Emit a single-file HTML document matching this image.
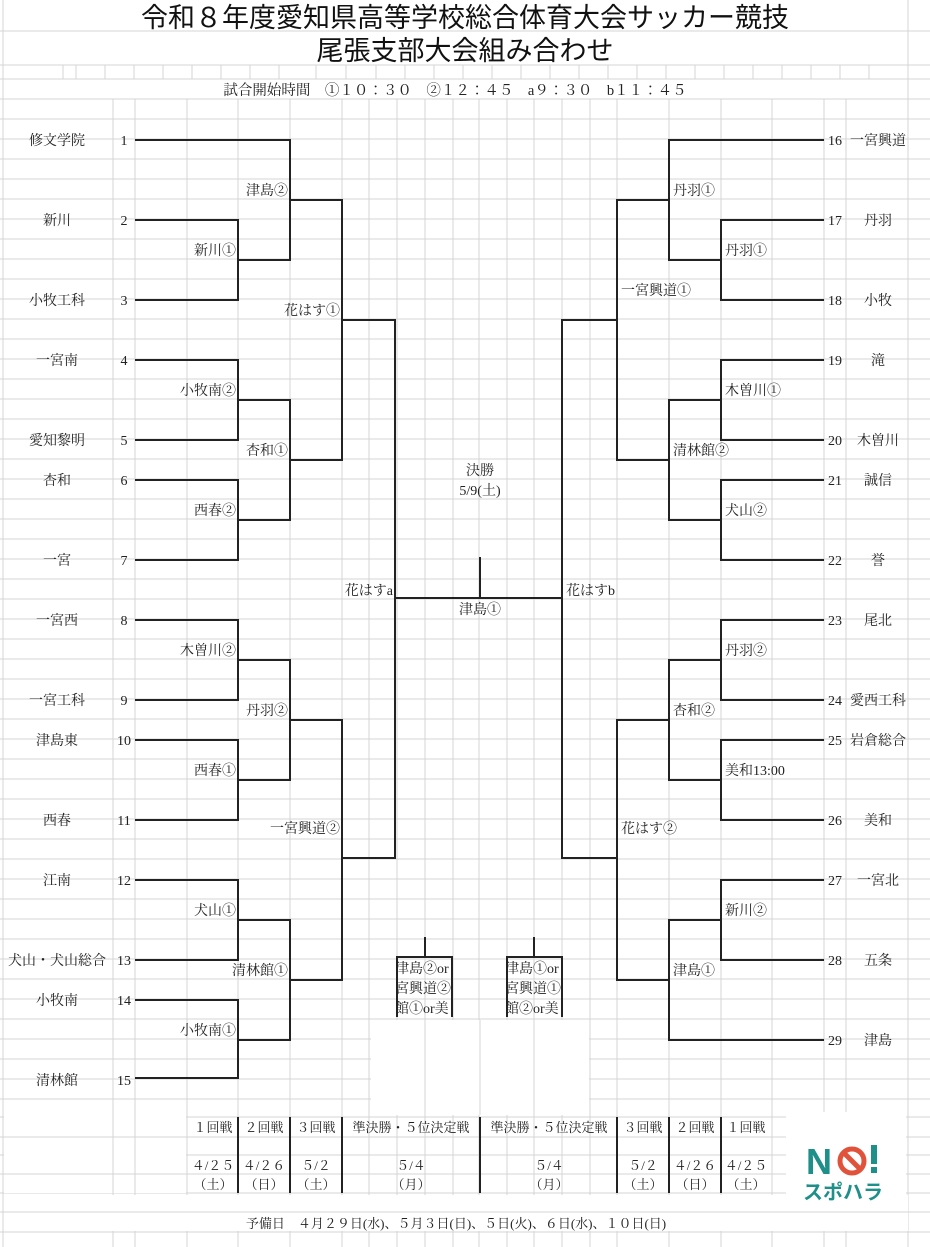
<!DOCTYPE html>
<html><head><meta charset="utf-8"><style>
html,body{margin:0;padding:0;background:#fff}
svg{display:block}
text{font-family:"Liberation Serif","Noto Serif CJK JP",serif;fill:#222}
.t{font-family:"Liberation Sans","Noto Sans CJK JP",sans-serif;font-size:27px;fill:#111}
.lg{font-family:"Liberation Sans","Noto Sans CJK JP",sans-serif;font-weight:bold;fill:#1f8f8a}
</style></head><body>
<svg width="930" height="1247" viewBox="0 0 930 1247" xmlns="http://www.w3.org/2000/svg">
<g stroke="#d4d4d4" stroke-width="1">
<line x1="0" y1="31" x2="930" y2="31"/><line x1="0" y1="65" x2="930" y2="65"/><line x1="0" y1="79" x2="930" y2="79"/>
<line x1="3" y1="0" x2="3" y2="1247"/><line x1="908" y1="0" x2="908" y2="1247"/>
</g>
<g stroke="#d4d4d4" stroke-width="1">
<line x1="0" y1="99" x2="930" y2="99"/><line x1="0" y1="119" x2="930" y2="119"/><line x1="0" y1="139" x2="930" y2="139"/><line x1="0" y1="159" x2="930" y2="159"/><line x1="0" y1="179" x2="930" y2="179"/><line x1="0" y1="199" x2="930" y2="199"/><line x1="0" y1="219" x2="930" y2="219"/><line x1="0" y1="239" x2="930" y2="239"/><line x1="0" y1="259" x2="930" y2="259"/><line x1="0" y1="279" x2="930" y2="279"/><line x1="0" y1="299" x2="930" y2="299"/><line x1="0" y1="319" x2="930" y2="319"/><line x1="0" y1="339" x2="930" y2="339"/><line x1="0" y1="359" x2="930" y2="359"/><line x1="0" y1="379" x2="930" y2="379"/><line x1="0" y1="399" x2="930" y2="399"/><line x1="0" y1="419" x2="930" y2="419"/><line x1="0" y1="439" x2="930" y2="439"/><line x1="0" y1="459" x2="930" y2="459"/><line x1="0" y1="479" x2="930" y2="479"/><line x1="0" y1="499" x2="930" y2="499"/><line x1="0" y1="519" x2="930" y2="519"/><line x1="0" y1="539" x2="930" y2="539"/><line x1="0" y1="559" x2="930" y2="559"/><line x1="0" y1="579" x2="930" y2="579"/><line x1="0" y1="599" x2="930" y2="599"/><line x1="0" y1="619" x2="930" y2="619"/><line x1="0" y1="639" x2="930" y2="639"/><line x1="0" y1="659" x2="930" y2="659"/><line x1="0" y1="679" x2="930" y2="679"/><line x1="0" y1="699" x2="930" y2="699"/><line x1="0" y1="719" x2="930" y2="719"/><line x1="0" y1="739" x2="930" y2="739"/><line x1="0" y1="759" x2="930" y2="759"/><line x1="0" y1="779" x2="930" y2="779"/><line x1="0" y1="799" x2="930" y2="799"/><line x1="0" y1="819" x2="930" y2="819"/><line x1="0" y1="839" x2="930" y2="839"/><line x1="0" y1="859" x2="930" y2="859"/><line x1="0" y1="879" x2="930" y2="879"/><line x1="0" y1="899" x2="930" y2="899"/><line x1="0" y1="919" x2="930" y2="919"/><line x1="0" y1="939" x2="930" y2="939"/><line x1="0" y1="959" x2="930" y2="959"/><line x1="0" y1="979" x2="930" y2="979"/><line x1="0" y1="999" x2="930" y2="999"/><line x1="0" y1="1019" x2="930" y2="1019"/><line x1="0" y1="1039" x2="930" y2="1039"/><line x1="0" y1="1059" x2="930" y2="1059"/><line x1="0" y1="1079" x2="930" y2="1079"/><line x1="0" y1="1099" x2="930" y2="1099"/><line x1="0" y1="1117" x2="930" y2="1117"/><line x1="0" y1="1137" x2="930" y2="1137"/><line x1="0" y1="1155" x2="930" y2="1155"/><line x1="0" y1="1174" x2="930" y2="1174"/><line x1="0" y1="1193" x2="930" y2="1193"/><line x1="0" y1="1212" x2="930" y2="1212"/><line x1="0" y1="1232" x2="930" y2="1232"/>
</g>
<g stroke="#d4d4d4" stroke-width="1">
<line x1="113" y1="99" x2="113" y2="1247"/><line x1="135" y1="99" x2="135" y2="1247"/><line x1="187" y1="99" x2="187" y2="1247"/><line x1="238" y1="99" x2="238" y2="1247"/><line x1="290" y1="99" x2="290" y2="1247"/><line x1="342" y1="99" x2="342" y2="1247"/><line x1="369" y1="99" x2="369" y2="1247"/><line x1="397" y1="99" x2="397" y2="1247"/><line x1="425" y1="99" x2="425" y2="1247"/><line x1="453" y1="99" x2="453" y2="1247"/><line x1="479" y1="99" x2="479" y2="1247"/><line x1="507" y1="99" x2="507" y2="1247"/><line x1="534" y1="99" x2="534" y2="1247"/><line x1="562" y1="99" x2="562" y2="1247"/><line x1="590" y1="99" x2="590" y2="1247"/><line x1="617" y1="99" x2="617" y2="1247"/><line x1="669" y1="99" x2="669" y2="1247"/><line x1="721" y1="99" x2="721" y2="1247"/><line x1="772" y1="99" x2="772" y2="1247"/><line x1="824" y1="99" x2="824" y2="1247"/><line x1="846" y1="99" x2="846" y2="1247"/>
<line x1="63" y1="65" x2="63" y2="79"/><line x1="76" y1="65" x2="76" y2="79"/><line x1="105" y1="65" x2="105" y2="79"/><line x1="134" y1="65" x2="134" y2="79"/><line x1="163" y1="65" x2="163" y2="79"/><line x1="192" y1="65" x2="192" y2="79"/><line x1="221" y1="65" x2="221" y2="79"/><line x1="250" y1="65" x2="250" y2="79"/><line x1="279" y1="65" x2="279" y2="79"/><line x1="316" y1="65" x2="316" y2="79"/><line x1="346" y1="65" x2="346" y2="79"/><line x1="376" y1="65" x2="376" y2="79"/><line x1="405" y1="65" x2="405" y2="79"/><line x1="434" y1="65" x2="434" y2="79"/><line x1="463" y1="65" x2="463" y2="79"/><line x1="492" y1="65" x2="492" y2="79"/><line x1="521" y1="65" x2="521" y2="79"/><line x1="550" y1="65" x2="550" y2="79"/><line x1="579" y1="65" x2="579" y2="79"/><line x1="608" y1="65" x2="608" y2="79"/><line x1="637" y1="65" x2="637" y2="79"/><line x1="666" y1="65" x2="666" y2="79"/><line x1="695" y1="65" x2="695" y2="79"/><line x1="724" y1="65" x2="724" y2="79"/><line x1="753" y1="65" x2="753" y2="79"/><line x1="782" y1="65" x2="782" y2="79"/><line x1="811" y1="65" x2="811" y2="79"/><line x1="840" y1="65" x2="840" y2="79"/><line x1="869" y1="65" x2="869" y2="79"/>
</g>
<rect x="371" y="1020" width="218" height="95" fill="#fff"/>
<g stroke="#d4d4d4"><line x1="425" y1="1020" x2="425" y2="1115"/><line x1="480" y1="1020" x2="480" y2="1115"/><line x1="534" y1="1020" x2="534" y2="1115"/></g>
<rect x="4" y="1100" width="182" height="93" fill="#fff"/>
<g stroke="#d4d4d4"><line x1="113" y1="1100" x2="113" y2="1193"/><line x1="135" y1="1100" x2="135" y2="1193"/><line x1="4" y1="1137" x2="186" y2="1137"/><line x1="4" y1="1174" x2="186" y2="1174"/></g>
<rect x="4" y="1195" width="904" height="36" fill="#fff"/>
<line x1="4" y1="1212" x2="908" y2="1212" stroke="#d4d4d4"/>
<rect x="786" y="1112" width="120" height="98" fill="#fff"/>

<g stroke="#222" stroke-width="2" fill="none">
<polyline points="135,140 290,140 290,260 238,260"/>
<polyline points="135,220 238,220 238,300 135,300"/>
<polyline points="290,200 342,200 342,460 290,460"/>
<polyline points="135,360 238,360 238,440 135,440"/>
<polyline points="135,480 238,480 238,560 135,560"/>
<polyline points="238,400 290,400 290,520 238,520"/>
<polyline points="342,320 395,320 395,858 342,858"/>
<polyline points="135,620 238,620 238,700 135,700"/>
<polyline points="135,740 238,740 238,820 135,820"/>
<polyline points="238,660 290,660 290,780 238,780"/>
<polyline points="290,720 342,720 342,980 290,980"/>
<polyline points="135,880 238,880 238,960 135,960"/>
<polyline points="135,1000 238,1000 238,1078 135,1078"/>
<polyline points="238,920 290,920 290,1040 238,1040"/>
<line x1="395" y1="598" x2="562" y2="598"/>
<line x1="480" y1="557" x2="480" y2="598"/>
<polyline points="824,140 669,140 669,260 721,260"/>
<polyline points="824,220 721,220 721,300 824,300"/>
<polyline points="669,200 617,200 617,460 669,460"/>
<polyline points="824,360 721,360 721,440 824,440"/>
<polyline points="824,480 721,480 721,560 824,560"/>
<polyline points="721,400 669,400 669,520 721,520"/>
<polyline points="617,320 562,320 562,858 617,858"/>
<polyline points="824,620 721,620 721,700 824,700"/>
<polyline points="824,740 721,740 721,820 824,820"/>
<polyline points="721,660 669,660 669,780 721,780"/>
<polyline points="669,720 617,720 617,980 669,980"/>
<polyline points="824,880 721,880 721,960 824,960"/>
<polyline points="824,1040 669,1040 669,920 721,920"/>
<polyline points="397,1017 397,957 452,957 452,1017"/>
<line x1="425" y1="937" x2="425" y2="957"/>
<polyline points="507,1017 507,957 562,957 562,1017"/>
<line x1="534" y1="937" x2="534" y2="957"/>
<line x1="238" y1="1117" x2="238" y2="1193"/><line x1="290" y1="1117" x2="290" y2="1193"/><line x1="342" y1="1117" x2="342" y2="1193"/><line x1="480" y1="1117" x2="480" y2="1193"/><line x1="617" y1="1117" x2="617" y2="1193"/><line x1="669" y1="1117" x2="669" y2="1193"/><line x1="721" y1="1117" x2="721" y2="1193"/>
</g>

<text class="t" x="465" y="27" text-anchor="middle">令和８年度愛知県高等学校総合体育大会サッカー競技</text>
<text class="t" x="465" y="60" text-anchor="middle">尾張支部大会組み合わせ</text>
<text x="455" y="95" font-size="14.5" text-anchor="middle">試合開始時間　①１０：３０　②１２：４５　a９：３０　b１１：４５</text>

<g font-size="14" text-anchor="middle">
<text x="57" y="145">修文学院</text><text x="124" y="145">1</text>
<text x="57" y="225">新川</text><text x="124" y="225">2</text>
<text x="57" y="305">小牧工科</text><text x="124" y="305">3</text>
<text x="57" y="365">一宮南</text><text x="124" y="365">4</text>
<text x="57" y="445">愛知黎明</text><text x="124" y="445">5</text>
<text x="57" y="485">杏和</text><text x="124" y="485">6</text>
<text x="57" y="565">一宮</text><text x="124" y="565">7</text>
<text x="57" y="625">一宮西</text><text x="124" y="625">8</text>
<text x="57" y="705">一宮工科</text><text x="124" y="705">9</text>
<text x="57" y="745">津島東</text><text x="124" y="745">10</text>
<text x="57" y="825">西春</text><text x="124" y="825">11</text>
<text x="57" y="885">江南</text><text x="124" y="885">12</text>
<text x="57" y="965">犬山・犬山総合</text><text x="124" y="965">13</text>
<text x="57" y="1005">小牧南</text><text x="124" y="1005">14</text>
<text x="57" y="1085">清林館</text><text x="124" y="1085">15</text>
<text x="835" y="145">16</text><text x="878" y="145">一宮興道</text>
<text x="835" y="225">17</text><text x="878" y="225">丹羽</text>
<text x="835" y="305">18</text><text x="878" y="305">小牧</text>
<text x="835" y="365">19</text><text x="878" y="365">滝</text>
<text x="835" y="445">20</text><text x="878" y="445">木曽川</text>
<text x="835" y="485">21</text><text x="878" y="485">誠信</text>
<text x="835" y="565">22</text><text x="878" y="565">誉</text>
<text x="835" y="625">23</text><text x="878" y="625">尾北</text>
<text x="835" y="705">24</text><text x="878" y="705">愛西工科</text>
<text x="835" y="745">25</text><text x="878" y="745">岩倉総合</text>
<text x="835" y="825">26</text><text x="878" y="825">美和</text>
<text x="835" y="885">27</text><text x="878" y="885">一宮北</text>
<text x="835" y="965">28</text><text x="878" y="965">五条</text>
<text x="835" y="1045">29</text><text x="878" y="1045">津島</text>
<text x="480" y="475">決勝</text>
<text x="480" y="495">5/9(土)</text>
<text x="480" y="614">津島①</text>
</g>
<g font-size="14" text-anchor="end">
<text x="288" y="195">津島②</text>
<text x="236" y="255">新川①</text>
<text x="340" y="315">花はす①</text>
<text x="236" y="395">小牧南②</text>
<text x="288" y="455">杏和①</text>
<text x="236" y="515">西春②</text>
<text x="393" y="595">花はすa</text>
<text x="236" y="655">木曽川②</text>
<text x="288" y="715">丹羽②</text>
<text x="236" y="775">西春①</text>
<text x="340" y="833">一宮興道②</text>
<text x="236" y="915">犬山①</text>
<text x="288" y="975">清林館①</text>
<text x="236" y="1035">小牧南①</text>
</g>
<g font-size="14">
<text x="673" y="195">丹羽①</text>
<text x="725" y="255">丹羽①</text>
<text x="621" y="295">一宮興道①</text>
<text x="725" y="395">木曽川①</text>
<text x="673" y="455">清林館②</text>
<text x="725" y="515">犬山②</text>
<text x="566" y="595">花はすb</text>
<text x="725" y="655">丹羽②</text>
<text x="673" y="715">杏和②</text>
<text x="725" y="775">美和13:00</text>
<text x="621" y="833">花はす②</text>
<text x="725" y="915">新川②</text>
<text x="673" y="975">津島①</text>
</g>
<svg x="397" y="957" width="55" height="62"><g font-size="14"><text x="-2" y="16">津島②or</text><text x="-2" y="36">宮興道②</text><text x="-2" y="56">館①or美</text></g></svg>
<svg x="507" y="957" width="55" height="62"><g font-size="14"><text x="-2" y="16">津島①or</text><text x="-2" y="36">宮興道①</text><text x="-2" y="56">館②or美</text></g></svg>

<g font-size="13" text-anchor="middle">
<text x="213" y="1132">１回戦</text><text x="264" y="1132">２回戦</text><text x="316" y="1132">３回戦</text>
<text x="411" y="1132">準決勝・５位決定戦</text><text x="549" y="1132">準決勝・５位決定戦</text>
<text x="643" y="1132">３回戦</text><text x="695" y="1132">２回戦</text><text x="746" y="1132">１回戦</text>
<text x="213" y="1170">４/２５</text><text x="264" y="1170">４/２６</text><text x="316" y="1170">５/２</text>
<text x="411" y="1170">５/４</text><text x="549" y="1170">５/４</text>
<text x="643" y="1170">５/２</text><text x="695" y="1170">４/２６</text><text x="746" y="1170">４/２５</text>
<text x="213" y="1189">（土）</text><text x="264" y="1189">（日）</text><text x="316" y="1189">（土）</text>
<text x="411" y="1189">（月）</text><text x="549" y="1189">（月）</text>
<text x="643" y="1189">（土）</text><text x="695" y="1189">（日）</text><text x="746" y="1189">（土）</text>
<text x="456" y="1228">予備日　４月２９日(水)、５月３日(日)、５日(火)、６日(水)、１０日(日)</text>
</g>

<g>
<text class="lg" x="806" y="1174" font-size="36">N</text>
<circle cx="852" cy="1161" r="12" fill="none" stroke="#e0533a" stroke-width="5"/>
<line x1="844" y1="1153" x2="860" y2="1169" stroke="#e0533a" stroke-width="5"/>
<rect x="871" y="1145" width="6" height="19" fill="#1f8f8a"/>
<rect x="871" y="1167" width="6" height="6" fill="#1f8f8a"/>
<text class="lg" x="843" y="1199" text-anchor="middle" font-size="20">スポハラ</text>
</g>
</svg>
</body></html>
